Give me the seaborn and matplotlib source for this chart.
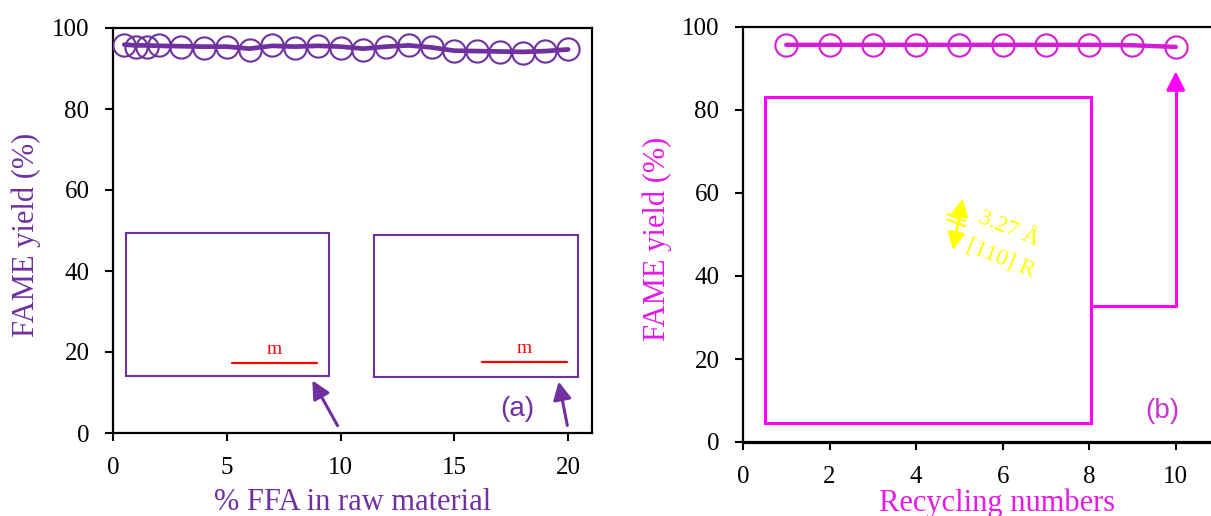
import matplotlib
matplotlib.use("Agg")
import matplotlib.pyplot as plt
import seaborn as sns
import pandas as pd

# ---------------- data ----------------
ffa_pct = [0.5, 1, 1.5, 2, 3, 4, 5, 6, 7, 8, 9, 10, 11, 12, 13, 14, 15, 16, 17, 18, 19, 20]
ffa_yield = [95.9, 95.4, 95.4, 95.7, 95.2, 95.1, 95.4, 94.6, 95.7, 95.1, 95.6,
             95.1, 94.6, 95.4, 95.9, 95.2, 94.2, 94.4, 94.1, 93.9, 94.2, 94.7]
ffa_trend = [95.9, 95.7, 95.7, 95.6, 95.5, 95.4, 95.4, 94.9, 95.6, 95.4, 95.6,
             95.4, 94.9, 95.4, 95.7, 95.2, 94.4, 94.3, 94.2, 94.1, 94.3, 94.7]

cycles = [1, 2, 3, 4, 5, 6, 7, 8, 9, 10]
cycle_yield = [95.7, 95.7, 95.7, 95.7, 95.7, 95.7, 95.7, 95.7, 95.6, 95.2]

left_xticks = [0, 5, 10, 15, 20]
right_xticks = [0, 2, 4, 6, 8, 10]
yticks = [0, 20, 40, 60, 80, 100]

PURPLE = "#7030A0"
MAG_LINE = "#D41ED4"
MAGENTA = "#FF00FF"
MAG_TEXT = "#E619E6"
YELLOW = "#FFFF00"

sns.set_theme(style="ticks")
plt.rcParams["font.family"] = ["Liberation Serif", "DejaVu Serif"]

fig = plt.figure(figsize=(12.11, 5.16), dpi=100)
axL = fig.add_axes([113 / 1211, 1 - 433 / 516, 479 / 1211, 405 / 516])
axR = fig.add_axes([743 / 1211, 1 - 442 / 516, 476 / 1211, 415 / 516])

df_l = pd.DataFrame({"x": ffa_pct, "y": ffa_yield, "t": ffa_trend})
df_r = pd.DataFrame({"x": cycles, "y": cycle_yield})

# ---- left panel ----
sns.lineplot(data=df_l, x="x", y="t", ax=axL, color=PURPLE, lw=3.4, zorder=3)
sns.lineplot(data=df_l, x="x", y="y", ax=axL, color=PURPLE, lw=0, marker="o",
             markersize=16, markerfacecolor="none", markeredgecolor=PURPLE,
             markeredgewidth=1.5, zorder=4)
axL.set_xlim(0, 21.05)
axL.set_ylim(0, 100)
axL.set_xticks(left_xticks)
axL.set_yticks(yticks)

# inset frames in panel (a)
for (x0, x1, y0, y1, sx0, sx1, sy) in [(0.57, 9.49, 14.1, 49.4, 5.23, 8.97, 17.3),
                                         (11.47, 20.44, 13.8, 48.9, 16.2, 19.96, 17.5)]:
    axL.add_patch(plt.Rectangle((x0, y0), x1 - x0, y1 - y0, fill=False,
                                edgecolor=PURPLE, lw=1.5, zorder=2))
    axL.plot([sx0, sx1], [sy, sy], color="red", lw=1.6)
    axL.text((sx0 + sx1) / 2, sy + 1.2, "m", color="red", fontsize=14,
             ha="center", va="bottom")

axL.annotate("", xy=(8.7, 13.6), xytext=(9.93, 1.2),
             arrowprops=dict(arrowstyle="-|>", color=PURPLE, lw=2.2, mutation_scale=27))
axL.annotate("", xy=(19.56, 13.4), xytext=(19.99, 1.2),
             arrowprops=dict(arrowstyle="-|>", color=PURPLE, lw=2.2, mutation_scale=27))
axL.text(17.76, 5.9, "(a)", color=PURPLE, fontsize=20, ha="center", va="center",
         family=["Liberation Sans", "DejaVu Sans"])

axL.set_xlabel("% FFA in raw material", color=PURPLE, fontsize=22)
axL.set_ylabel("FAME yield (%)", color=PURPLE, fontsize=22)
axL.xaxis.set_label_coords(0.5, -0.135)
axL.yaxis.set_label_coords(-0.15, 0.49)

# ---- right panel ----
sns.lineplot(data=df_r, x="x", y="y", ax=axR, color=MAG_LINE, lw=3.2, marker="o",
             markersize=16, markerfacecolor="none", markeredgecolor=MAG_LINE,
             markeredgewidth=1.5, zorder=4)
axR.set_xlim(0, 11)
axR.set_ylim(0, 100)
axR.set_xticks(right_xticks)
axR.set_yticks(yticks)

axR.add_patch(plt.Rectangle((0.51, 4.6), 8.04 - 0.51, 83.1 - 4.6, fill=False,
                            edgecolor=MAGENTA, lw=2.2, zorder=2))
axR.plot([8.04, 10.0, 10.0], [32.8, 32.8, 86.0], color=MAGENTA, lw=2.2, zorder=2)
axR.annotate("", xy=(10.0, 90.0), xytext=(10.0, 85.0),
             arrowprops=dict(arrowstyle="-|>", color=MAGENTA, lw=2.2, mutation_scale=28))

# lattice annotation (yellow)
axR.annotate("", xy=(5.09, 59.3), xytext=(4.84, 45.6),
             arrowprops=dict(arrowstyle="<|-|>", color=YELLOW, lw=2.0, mutation_scale=26))
for dy in (0.0, 1.3):
    axR.plot([4.72, 5.14], [53.6 + dy, 52.0 + dy], color=YELLOW, lw=1.6)
axR.text(6.14, 51.4, "3.27 Å", color=YELLOW, fontsize=17, rotation=-22,
         ha="center", va="center")
axR.text(5.95, 44.2, "[110] R", color=YELLOW, fontsize=17, rotation=-22,
         ha="center", va="center")

axR.text(9.68, 7.4, "(b)", color="#CC33CC", fontsize=20, ha="center", va="center",
         family=["Liberation Sans", "DejaVu Sans"])

axR.set_xlabel("Recycling numbers", color=MAG_TEXT, fontsize=22)
axR.set_ylabel("FAME yield (%)", color=MAG_TEXT, fontsize=22)
axR.xaxis.set_label_coords(0.534, -0.112)
axR.yaxis.set_label_coords(-0.15, 0.49)

for ax in (axL, axR):
    for s in ax.spines.values():
        s.set_linewidth(1.6)
        s.set_color("black")
    ax.tick_params(axis="both", direction="out", length=6, width=1.5,
                   labelsize=18, colors="black", pad=11)
axR.spines["bottom"].set_linewidth(2.3)

fig.savefig("out.png", dpi=100)
